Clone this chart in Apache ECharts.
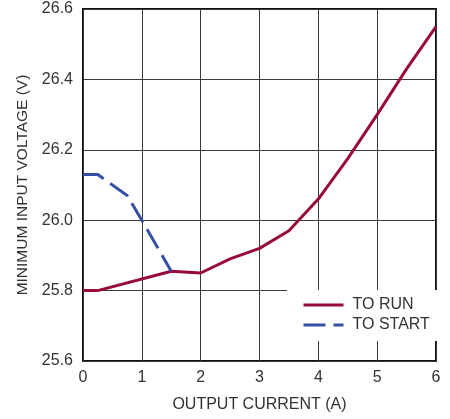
<!DOCTYPE html>
<html>
<head>
<meta charset="utf-8">
<script src="https://cdn.jsdelivr.net/npm/echarts@6/dist/echarts.min.js"></script>
<style>
  html, body { margin: 0; padding: 0; background: #fff; }
  #chart { width: 450px; height: 419px; }
</style>
</head>
<body>
<div id="chart"></div>
<script>
  // output current (A) vs minimum input voltage (V)
  var runCurrent = [0, 0.25, 1.5, 2, 2.5, 3, 3.5, 4, 4.5, 5, 5.5, 6];
  var runVoltage = [25.80, 25.80, 25.855, 25.85, 25.89, 25.92, 25.97, 26.06, 26.175, 26.30, 26.43, 26.55];
  var startCurrent = [0, 0.25, 0.75, 1, 1.5];
  var startVoltage = [26.13, 26.13, 26.07, 26.0, 25.855];
  var xTicks = [0, 1, 2, 3, 4, 5, 6];
  var yTicks = [25.6, 25.8, 26.0, 26.2, 26.4, 26.6];

  var FONT = '"Liberation Sans", Arial, sans-serif';

  function pairs(xs, ys) {
    let out = [];
    for (let i = 0; i < xs.length; i++) out.push([xs[i], ys[i]]);
    return out;
  }

  let chart = echarts.init(document.getElementById('chart'));

  let option = {
    animation: false,
    grid: {
      show: true,
      left: 83, right: 14, top: 9, bottom: 58,
      borderColor: '#111', borderWidth: 2,
      backgroundColor: '#fff'
    },
    legend: {
      orient: 'vertical',
      left: 287, top: 290,
      backgroundColor: '#fff',
      padding: [7, 8, 8, 15],
      itemWidth: 40, itemHeight: 14, itemGap: 4,
      itemStyle: { opacity: 0 },
      lineStyle: { width: 3 },
      textStyle: { fontFamily: FONT, fontSize: 16, color: '#333', padding: [0, 0, 0, 4] },
      data: ['TO RUN', 'TO START']
    },
    xAxis: {
      type: 'value',
      min: xTicks[0], max: xTicks[xTicks.length - 1], interval: 1,
      name: 'OUTPUT CURRENT (A)',
      nameLocation: 'middle', nameGap: 36,
      nameTextStyle: { fontFamily: FONT, fontSize: 16, color: '#333' },
      axisLine: { show: false },
      axisTick: { show: false },
      axisLabel: { fontFamily: FONT, fontSize: 16, color: '#333', margin: 9,
        formatter: v => String(v) },
      splitLine: { show: true, lineStyle: { color: '#3a3a3a', width: 1 } }
    },
    yAxis: {
      type: 'value',
      min: yTicks[0], max: yTicks[yTicks.length - 1], interval: 0.2,
      name: 'MINIMUM INPUT VOLTAGE (V)',
      nameLocation: 'middle', nameGap: 51, nameRotate: 90,
      nameTextStyle: { fontFamily: FONT, fontSize: 15.5, color: '#333' },
      axisLine: { show: false },
      axisTick: { show: false },
      axisLabel: { fontFamily: FONT, fontSize: 16, color: '#333', margin: 10,
        formatter: v => v.toFixed(1) },
      splitLine: { show: true, lineStyle: { color: '#3a3a3a', width: 1 } }
    },
    series: [
      {
        name: 'TO RUN',
        type: 'line',
        data: pairs(runCurrent, runVoltage),
        symbol: 'none',
        color: '#990b37',
        lineStyle: { color: '#990b37', width: 3 }
      },
      {
        name: 'TO START',
        type: 'line',
        data: pairs(startCurrent, startVoltage),
        symbol: 'none',
        color: '#3550a3',
        lineStyle: { color: '#3550a3', width: 3, type: [22, 8] }
      }
    ]
  };

  chart.setOption(option);
</script>
</body>
</html>
